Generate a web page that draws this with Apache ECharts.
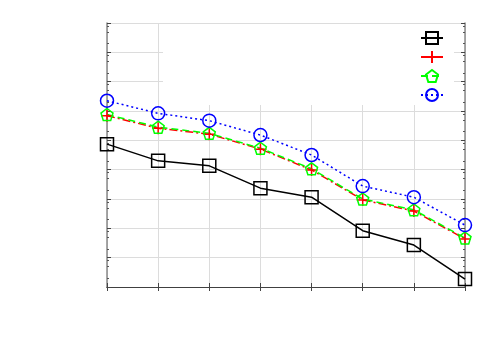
<!DOCTYPE html>
<html>
<head>
<meta charset="utf-8">
<script src="https://cdn.jsdelivr.net/npm/echarts@6/dist/echarts.min.js"></script>
<style>html,body{margin:0;padding:0;background:#fff;}#c{width:500px;height:350px;}</style>
</head>
<body>
<div id="c"></div>
<script>
// ---- data ----
const xValues = [1, 2, 3, 4, 5, 6, 7, 8];
const seriesNames = ['A', 'B', 'C', 'D'];
const blackSquare = [4.87, 4.30, 4.13, 3.37, 3.06, 1.92, 1.43, 0.27];
const redPlus     = [5.84, 5.41, 5.21, 4.70, 3.99, 2.97, 2.59, 1.64];
const greenPent   = [5.88, 5.45, 5.24, 4.73, 4.03, 3.00, 2.63, 1.67];
const blueCircle  = [6.35, 5.92, 5.67, 5.18, 4.50, 3.44, 3.06, 2.11];
const yMin = 0, yMax = 9, xMin = 1, xMax = 8;
const minorFractions = [0.3, 0.7, 0.9];

const minorVals = [];
for (let k = yMin; k < yMax; k++) minorFractions.forEach(f => minorVals.push(k + f));

const pair = arr => arr.map((v, i) => [xValues[i], v]);
const PLUS = 'path://M0,5L10,5M5,0L5,10';
const PENT = 'path://M50,0L97.6,34.5L79.4,90.5L20.6,90.5L2.4,34.5Z';

const chart = echarts.init(document.getElementById('c'), null, {renderer: 'canvas'});
const darkLine = {lineStyle: {color: '#404040', width: 1}};
const grayLine = {lineStyle: {color: '#8a8a8a', width: 1.5}};
function yAx(pos, main, minor) {
  return {
    type: 'value', position: pos, min: yMin, max: yMax, interval: 1,
    axisLine: minor ? {show: false} : Object.assign({show: true}, grayLine),
    axisLabel: {show: false},
    axisTick: minor ? {show: true, inside: true, length: 2, customValues: minorVals, lineStyle: {color: '#555'}}
                    : {show: true, inside: true, length: 4, lineStyle: {color: '#444'}},
    splitLine: {show: main, lineStyle: {color: '#dcdcdc', width: 1}}
  };
}
function xAx(pos, main) {
  return {
    type: 'value', position: pos, min: xMin, max: xMax, interval: 1,
    axisLine: Object.assign({show: true}, darkLine),
    axisLabel: {show: false},
    axisTick: {show: true, inside: true, length: 4, lineStyle: {color: '#444'}},
    splitLine: {show: main, lineStyle: {color: '#dcdcdc', width: 1}}
  };
}
function ser(name, data, color, lineType, symbol, size) {
  return {
    name: name, type: 'line', data: pair(data), xAxisIndex: 0, yAxisIndex: 0,
    symbol: symbol, symbolSize: size, showAllSymbol: true,
    lineStyle: {color: color, width: 1.5, type: lineType},
    itemStyle: {color: 'rgba(0,0,0,0)', borderColor: color, borderWidth: 1.5},
    emphasis: {disabled: true}, animation: false
  };
}
chart.setOption({
  backgroundColor: '#fff',
  animation: false,
  grid: {left: 107, right: 35, top: 23, bottom: 63},
  xAxis: [xAx('bottom', true), xAx('top', false)],
  yAxis: [yAx('left', true, false), yAx('right', false, false), yAx('left', false, true), yAx('right', false, true)],
  legend: {
    data: seriesNames, orient: 'vertical', left: 163, top: 24,
    padding: [7, 6, 3, 257], backgroundColor: '#fff',
    itemWidth: 22, itemHeight: 15, itemGap: 5,
    formatter: function () { return ''; },
    textStyle: {fontSize: 10, lineHeight: 15}
  },
  series: [
    ser(seriesNames[0], blackSquare, '#000000', 'solid', 'rect', 13),
    ser(seriesNames[1], redPlus, '#ff0000', [8, 3, 2, 3], PLUS, 12),
    ser(seriesNames[2], greenPent, '#00ff00', [7, 4], PENT, 12),
    ser(seriesNames[3], blueCircle, '#0000ff', [2, 3], 'circle', 13)
  ]
});
</script>
</body>
</html>
